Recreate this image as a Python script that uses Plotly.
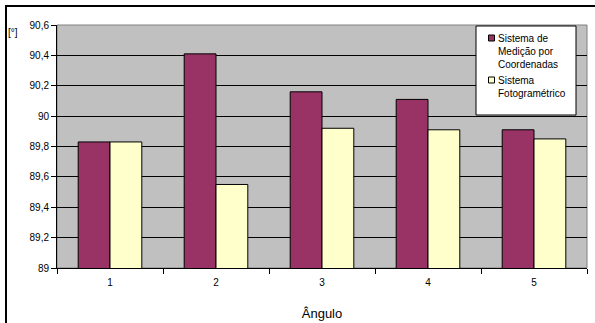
import plotly.graph_objects as go

# ---- data ----
categories = ["1", "2", "3", "4", "5"]
series_names = ["Sistema de<br>Medição por<br>Coordenadas", "Sistema<br>Fotogramétrico"]
values_coord = [89.83, 90.41, 90.16, 90.11, 89.91]
values_foto = [89.83, 89.55, 89.92, 89.91, 89.85]
y_tickvals = [89, 89.2, 89.4, 89.6, 89.8, 90, 90.2, 90.4, 90.6]
y_ticktext = ["89", "89,2", "89,4", "89,6", "89,8", "90", "90,2", "90,4", "90,6"]
colors = ["#993366", "#FFFFCC"]

W, H = 595, 323
L, R, T, B = 57, 8, 25, 55
PW, PH = W - L - R, H - T - B


def px(x):
    return (x - L) / PW


def py(y):
    return (H - B - y) / PH


FONT = "Liberation Sans, Arial, sans-serif"

fig = go.Figure()
for name, vals, col in zip(series_names, [values_coord, values_foto], colors):
    fig.add_trace(go.Bar(
        x=categories, y=vals, name=name.replace("<br>", " "),
        marker=dict(color=col, line=dict(color="black", width=1)),
    ))

shapes = [
    # outer frame (left & top edges visible in the crop)
    dict(type="line", xref="paper", yref="paper", x0=px(6), x1=px(6), y0=py(H + 5), y1=py(5),
         line=dict(color="black", width=2), layer="below"),
    dict(type="line", xref="paper", yref="paper", x0=px(5), x1=px(W + 5), y0=py(6), y1=py(6),
         line=dict(color="black", width=2), layer="below"),
    # plot area border
    dict(type="rect", xref="paper", yref="paper", x0=0, x1=1, y0=0, y1=1,
         line=dict(color="#808080", width=1), fillcolor="rgba(0,0,0,0)", layer="below"),
    # legend box
    dict(type="rect", xref="paper", yref="paper", x0=px(476), x1=px(576), y0=py(115), y1=py(26),
         line=dict(color="black", width=1), fillcolor="white", layer="above"),
]
annotations = [
    dict(text="[°]", xref="paper", yref="paper", x=px(6), y=py(33), xanchor="left", yanchor="middle",
         showarrow=False, font=dict(family=FONT, size=10, color="black")),
]
leg_y = [38, 80]
for name, col, yy in zip(series_names, colors, leg_y):
    shapes.append(dict(type="rect", xref="paper", yref="paper", x0=px(488.5), x1=px(494.5),
                       y0=py(yy + 3), y1=py(yy - 3), line=dict(color="black", width=1),
                       fillcolor=col, layer="above"))
    annotations.append(dict(text=name, xref="paper", yref="paper", x=px(496), y=py(yy - 7),
                            xanchor="left", yanchor="top", align="left", showarrow=False,
                            font=dict(family=FONT, size=10, color="black")))

fig.update_layout(
    width=W, height=H,
    margin=dict(l=L, r=R, t=T, b=B),
    paper_bgcolor="white", plot_bgcolor="#C0C0C0",
    barmode="group", bargap=0.40, bargroupgap=0,
    showlegend=False,
    separators=",.",
    font=dict(family=FONT, size=10, color="black"),
    shapes=shapes, annotations=annotations,
    xaxis=dict(
        type="category", tickson="boundaries", ticks="outside", ticklen=5, tickcolor="black",
        showline=True, linecolor="black", linewidth=1, showgrid=False,
        ticklabelstandoff=5, automargin=False,
        title=dict(text="Ângulo", font=dict(family=FONT, size=13), standoff=21),
        tickfont=dict(family=FONT, size=10),
    ),
    yaxis=dict(
        range=[89, 90.6], tickvals=y_tickvals, ticktext=y_ticktext,
        ticks="outside", ticklen=5, tickcolor="black",
        showline=True, linecolor="black", linewidth=1, automargin=False,
        showgrid=True, gridcolor="black", gridwidth=1, zeroline=False,
        tickfont=dict(family=FONT, size=10),
    ),
)

fig.write_html("out.html", config={"displayModeBar": False},
               post_script="document.body.style.margin='0';document.body.style.padding='0';")
